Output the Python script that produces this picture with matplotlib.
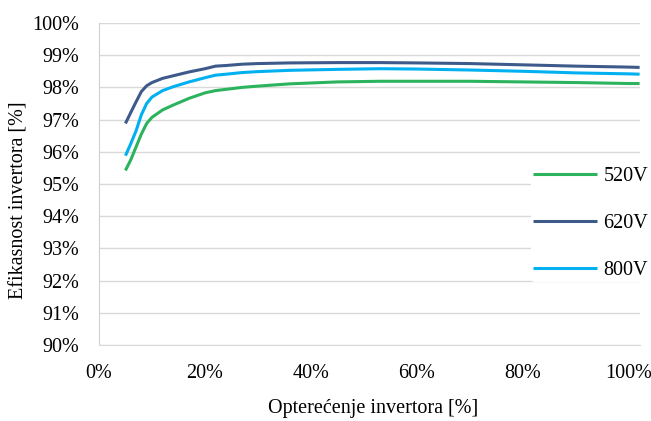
import numpy as np
import matplotlib
matplotlib.use("Agg")
import matplotlib.pyplot as plt
from matplotlib.ticker import PercentFormatter

# load in % of nominal power
load = [5, 6, 7, 8, 9, 10, 12, 14, 17, 20, 22, 24, 27, 30, 36, 45, 53, 60, 70, 80, 90, 100, 102]

# inverter efficiency [%]
eff_520 = [95.42, 95.75, 96.15, 96.55, 96.88, 97.07, 97.30, 97.45, 97.66, 97.83, 97.90, 97.94,
           98.00, 98.04, 98.11, 98.17, 98.19, 98.19, 98.19, 98.17, 98.15, 98.12, 98.12]
eff_620 = [96.88, 97.22, 97.55, 97.87, 98.05, 98.15, 98.28, 98.36, 98.48, 98.58, 98.66, 98.68,
           98.72, 98.74, 98.76, 98.77, 98.77, 98.76, 98.74, 98.70, 98.66, 98.63, 98.62]
eff_800 = [95.88, 96.25, 96.65, 97.15, 97.50, 97.70, 97.90, 98.02, 98.17, 98.30, 98.38, 98.41,
           98.46, 98.49, 98.53, 98.56, 98.58, 98.57, 98.54, 98.50, 98.45, 98.42, 98.41]

series = [("520V", eff_520, "#2bb35e"), ("620V", eff_620, "#3d5a8a"), ("800V", eff_800, "#00b0f0")]

plt.rcParams['font.family'] = ['Liberation Serif', 'DejaVu Serif']
fs = 14.5

fig = plt.figure(figsize=(6.51, 4.21), dpi=100)
ax = fig.add_axes([0.152, 0.1805, 0.8305, 0.7649])

x = np.array(load) / 100.0
for name, eff, col in series:
    ax.plot(x, np.array(eff) / 100.0, color=col, lw=2.2, label=name,
            solid_capstyle='butt', zorder=3)

ax.set_xlim(0, 1.02)
ax.set_ylim(0.90, 1.00)
ax.set_xticks(np.arange(0, 1.01, 0.2))
ax.set_yticks(np.arange(0.90, 1.001, 0.01))
ax.xaxis.set_major_formatter(PercentFormatter(1.0, decimals=0))
ax.yaxis.set_major_formatter(PercentFormatter(1.0, decimals=0))
ax.tick_params(length=0, labelsize=fs, pad=14)
ax.grid(axis='y', color='#d9d9d9', lw=1.0, zorder=0)
ax.set_axisbelow(True)
for s in ['top', 'right']:
    ax.spines[s].set_visible(False)
ax.spines['left'].set_color('#d0d0d0')
ax.spines['bottom'].set_color('#d9d9d9')

fig.text(373 / 651, 1 - 408 / 421, 'Opterećenje invertora [%]', fontsize=fs,
         ha='center', va='center')
fig.text(19 / 651, 1 - 200 / 421, 'Efikasnost invertora [%]', fontsize=fs,
         ha='center', va='center', rotation=90)

leg = ax.legend(loc='upper left', bbox_to_anchor=(531 / 651, 1 - 165 / 421),
                bbox_transform=fig.transFigure, frameon=True, fontsize=fs,
                handlelength=3.2, handletextpad=0.3, labelspacing=1.38,
                borderpad=0.1, borderaxespad=0)
leg.get_frame().set_facecolor('white')
leg.get_frame().set_edgecolor('none')
leg.get_frame().set_alpha(1)

fig.savefig('out.png', dpi=100)
